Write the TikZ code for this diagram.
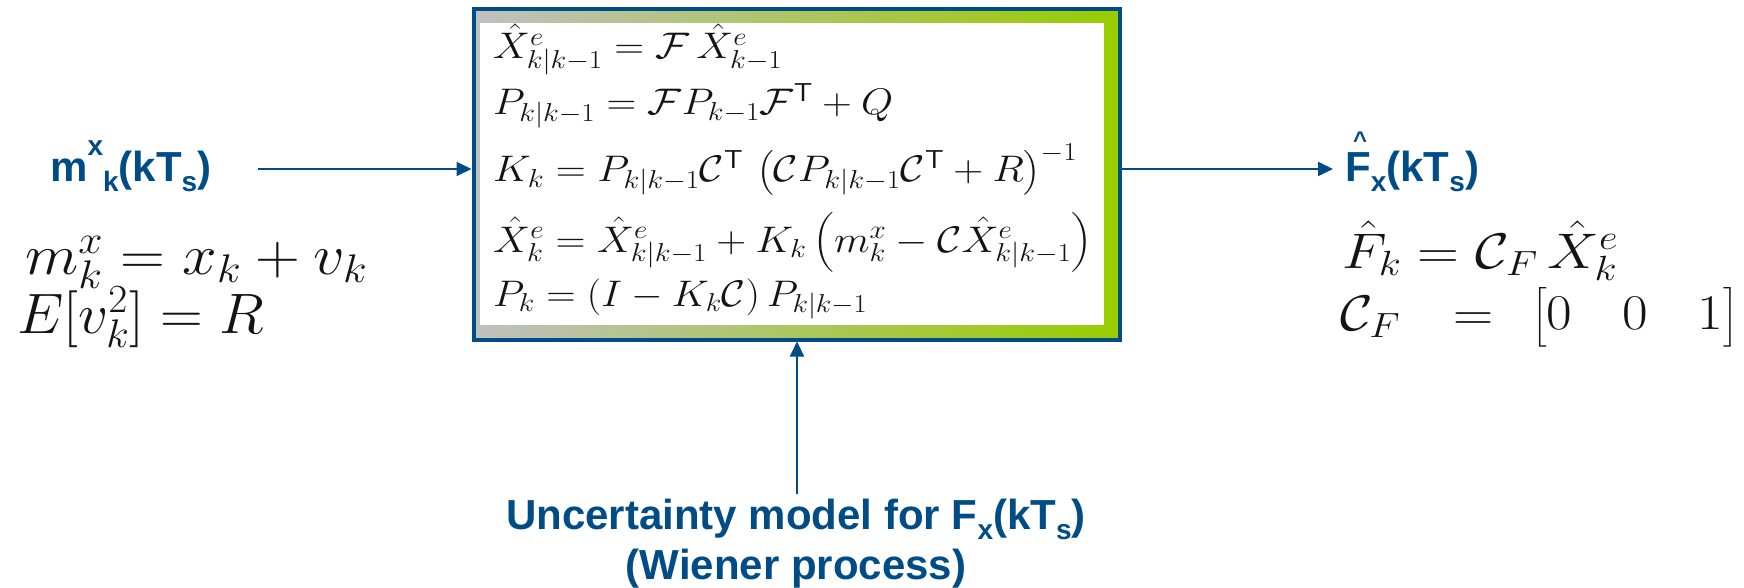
\RequirePackage{fix-cm}
\documentclass[tikz,border=0pt]{standalone}
\usepackage{amsmath}
\usepackage{graphicx}
\usepackage{fontspec}
\newfontfamily\lsans{Liberation Sans}
\usetikzlibrary{arrows.meta}
\definecolor{myblue}{RGB}{0,76,135}
\definecolor{fgray}{RGB}{192,192,192}
\definecolor{fgreen}{RGB}{153,204,0}
\definecolor{mathc}{RGB}{20,20,20}
\newcommand\tsub[1]{\raisebox{-10pt}{\fontsize{28}{28}\selectfont #1}}
\newcommand\tsup[1]{\raisebox{26pt}{\fontsize{28}{28}\selectfont #1}}
\newcommand\hatF{\rlap{\hspace{8pt}\raisebox{33pt}{\fontsize{24}{24}\selectfont\textasciicircum}}F}
\tikzset{
  lbl/.style={text=myblue, font=\lsans\bfseries\fontsize{42}{50}\selectfont, inner sep=0pt, anchor=base west},
  eqbox/.style={inner sep=0pt, anchor=base west, text=mathc, font=\fontsize{37}{44}\selectfont},
  eqleft/.style={inner sep=0pt, anchor=base west, text=mathc, font=\fontsize{57}{66}\selectfont},
  eqright/.style={inner sep=0pt, anchor=base west, text=mathc, font=\fontsize{50}{60}\selectfont},
  conn/.style={draw=myblue, line width=2pt, -{Triangle[length=15pt,width=14pt]}},
}
\begin{document}
\begin{tikzpicture}[x=1pt,y=-1pt]
\useasboundingbox (0,0) rectangle (1744,588);
% filter block
\node[draw=myblue, line width=4pt, left color=fgray, right color=fgreen,
      minimum width=646pt, minimum height=330.5pt, inner sep=0pt] (box) at (796.5,174.25) {};
\node[fill=white, minimum width=624pt, minimum height=302pt, inner sep=0pt] (inner) at (792,174) {};
% equations inside the block
\node[eqbox] (e1) at (493,59) {\resizebox{289pt}{\height}{$\hat{X}^{e}_{k|k-1} = \mathcal{F}\,\hat{X}^{e}_{k-1}$}};
\node[eqbox] (e2) at (493,115) {\resizebox{400pt}{\height}{$P_{k|k-1} = \mathcal{F}P_{k-1}\mathcal{F}^{\mathsf{T}} + Q$}};
\node[eqbox] (e3) at (493,182) {\resizebox{584pt}{\height}{$K_k = P_{k|k-1}\mathcal{C}^{\mathsf{T}}\,\left(\mathcal{C}P_{k|k-1}\mathcal{C}^{\mathsf{T}} + R\right)^{-1}$}};
\node[eqbox] (e4) at (493,252) {\resizebox{599pt}{\height}{$\hat{X}^{e}_{k} = \hat{X}^{e}_{k|k-1} + K_k\left(m^x_k - \mathcal{C}\hat{X}^{e}_{k|k-1}\right)$}};
\node[eqbox] (e5) at (493,306) {\resizebox{374pt}{\height}{$P_k = (I - K_k\mathcal{C})\,P_{k|k-1}$}};
% input side
\node[lbl] (mlab) at (50,182) {m\tsup{x}\tsub{k}(kT\tsub{s})};
\node[eqleft] (meq) at (25,274) {\resizebox{342pt}{\height}{$m^x_k = x_k + v_k$}};
\node[eqleft] (req) at (17,333) {\resizebox{247pt}{\height}{$E[v_k^2] = R$}};
% output side
\node[lbl] (flab) at (1345,182) {\hatF\tsub{x}(kT\tsub{s})};
\node[eqright] (feq) at (1342,268) {\resizebox{276pt}{\height}{$\hat{F}_k = \mathcal{C}_F\,\hat{X}^{e}_{k}$}};
\node[eqright] (ceq) at (1340,330) {\resizebox{398pt}{\height}{$\mathcal{C}_F\hspace{48pt}{=}\hspace{26pt}\setlength\arraycolsep{22.5pt}\left[\begin{matrix}0 & 0 & 1\end{matrix}\right]$}};
% uncertainty model
\node[lbl, anchor=base, align=center] (unc) at (796,579) {Uncertainty model for F\tsub{x}(kT\tsub{s})\\(Wiener process)};
% connectors
\coordinate (in) at (258,169);
\coordinate (out) at (1333,169);
\draw[conn] (in) -- (in -| box.west);
\draw[conn] (out -| box.east) -- (out);
\draw[conn] ([xshift=1pt,yshift=4pt]unc.north) -- ([xshift=1pt]unc.north |- box.south);
\end{tikzpicture}
\end{document}
